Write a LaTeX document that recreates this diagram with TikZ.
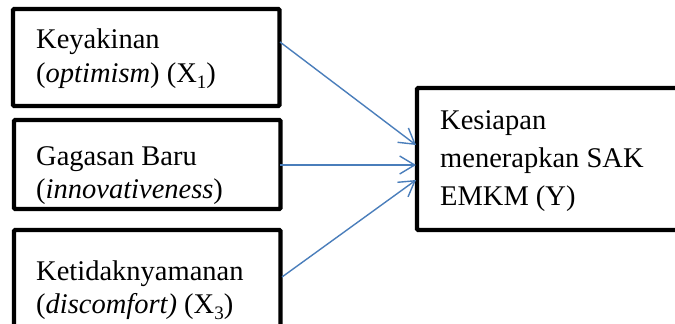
\documentclass[tikz,border=0pt]{standalone}
\usepackage{fontspec}
\setmainfont{Liberation Serif}
\usetikzlibrary{arrows.meta}
\definecolor{arrowblue}{HTML}{4A7EBB}
\newcommand{\mysub}[1]{\raisebox{-0.22em}{\fontsize{19}{19}\selectfont #1}}
\begin{document}
\begin{tikzpicture}[x=1pt,y=-1pt,
  boxframe/.style={draw=black,line width=4.2pt,rounded corners=1pt},
  txt/.style={anchor=base west,inner sep=0pt,font=\fontsize{28.5}{34}\selectfont},
  conn/.style={draw=arrowblue,line width=1.4pt,-{Straight Barb[length=15pt,width=18pt,line width=1.4pt]}}]
\useasboundingbox (0,0) rectangle (675,324);
\clip (0,0) rectangle (675,324);
\fill[white] (0,0) rectangle (675,324);
% boxes
\draw[boxframe] (13,9) rectangle (279.5,106);
\draw[boxframe] (14,120) rectangle (280.5,209);
\draw[boxframe] (14,230) rectangle (280.5,332);
\draw[boxframe] (417,88) rectangle (690,230);
% texts
\node[txt] (t1a) at (36,48) {Keyakinan};
\node[txt] (t1b) at (36,82) {(\textit{optimism}) (X\mysub{1})};
\node[txt] (t2a) at (36,165) {Gagasan Baru};
\node[txt] (t2b) at (36,198) {(\textit{innovativeness})};
\node[txt] (t3a) at (36,280) {Ketidaknyamanan};
\node[txt] (t3b) at (36,313) {(\textit{discomfort)} (X\mysub{3})};
\node[txt] (ya) at (440,129) {Kesiapan};
\node[txt] (yb) at (440,167) {menerapkan SAK};
\node[txt] (yc) at (440,205) {EMKM (Y)};
% connector end points
\coordinate (s1) at (280,42);
\coordinate (s2) at (280,165);
\coordinate (s3) at (282,277);
\coordinate (e1) at (416,145);
\coordinate (e2) at (416,165);
\coordinate (e3) at (416,180);
\draw[conn] (s1) -- (e1);
\draw[conn] (s2) -- (e2);
\draw[conn] (s3) -- (e3);
\end{tikzpicture}
\end{document}
